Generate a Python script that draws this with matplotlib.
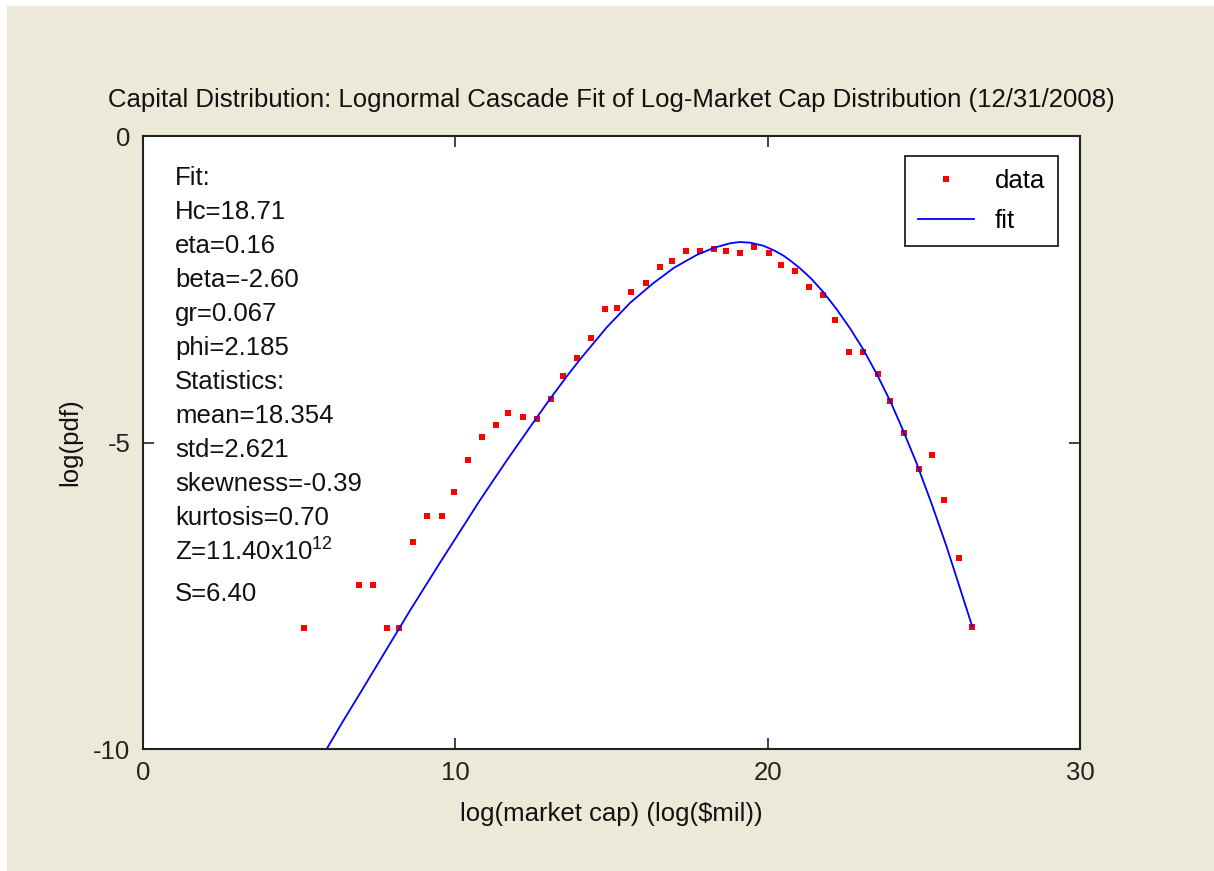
import numpy as np
import matplotlib
matplotlib.use("Agg")
import matplotlib.pyplot as plt
from matplotlib.patches import Rectangle

# data points
data_x = [5.17, 6.92, 7.37, 7.82, 8.20, 8.66, 9.10, 9.57, 9.95, 10.42,
          10.86, 11.31, 11.70, 12.16, 12.61, 13.06, 13.44, 13.90, 14.35, 14.80,
          15.19, 15.64, 16.10, 16.55, 16.93, 17.38, 17.84, 18.28, 18.68, 19.13,
          19.57, 20.04, 20.42, 20.88, 21.33, 21.77, 22.16, 22.62, 23.06, 23.53,
          23.91, 24.38, 24.83, 25.26, 25.65, 26.11, 26.55]
data_y = [-8.02, -7.32, -7.32, -8.02, -8.02, -6.63, -6.20, -6.20, -5.80, -5.28,
          -4.91, -4.72, -4.52, -4.58, -4.61, -4.29, -3.92, -3.62, -3.30, -2.83,
          -2.80, -2.54, -2.40, -2.14, -2.04, -1.88, -1.88, -1.85, -1.88, -1.91,
          -1.81, -1.91, -2.11, -2.21, -2.47, -2.60, -3.00, -3.53, -3.53, -3.89,
          -4.32, -4.84, -5.44, -5.21, -5.94, -6.89, -8.01]

# fitted curve
fit_x = [5.88, 6.40, 6.95, 7.91, 8.55, 9.51, 10.79, 11.65, 12.61, 13.06,
         13.57, 14.00, 14.85, 15.60, 16.34, 17.00, 17.73, 18.30, 18.80, 19.10,
         19.44, 19.86, 20.18, 20.50, 20.72, 21.04, 21.40, 21.77, 22.20, 22.64,
         23.06, 23.50, 23.92, 24.30, 24.77, 25.25, 25.73, 26.55]
fit_y = [-10.0, -9.55, -9.09, -8.28, -7.74, -6.96, -5.94, -5.29, -4.59, -4.27,
         -3.92, -3.64, -3.12, -2.72, -2.40, -2.15, -1.94, -1.82, -1.75, -1.73,
         -1.74, -1.79, -1.86, -1.95, -2.03, -2.16, -2.33, -2.54, -2.82, -3.14,
         -3.48, -3.89, -4.32, -4.76, -5.34, -6.00, -6.70, -8.00]

info_lines = ["Fit:", "Hc=18.71", "eta=0.16", "beta=-2.60", "gr=0.067", "phi=2.185",
              "Statistics:", "mean=18.354", "std=2.621", "skewness=-0.39",
              "kurtosis=0.70", "Z=11.40x10$^{12}$", "S=6.40"]

plt.rcParams['font.family'] = ['Liberation Sans', 'DejaVu Sans']
plt.rcParams['mathtext.fontset'] = 'custom'
plt.rcParams['mathtext.rm'] = 'Liberation Sans'
plt.rcParams['mathtext.it'] = 'Liberation Sans'
plt.rcParams['mathtext.default'] = 'regular'
plt.rcParams['axes.unicode_minus'] = False

W, H = 1214, 871
FS = 18.5
fig = plt.figure(figsize=(W / 100, H / 100), dpi=100, facecolor="white")
# MATLAB-style beige window background, thin white strip on left/top
fig.patches.append(Rectangle((7 / W, 0), 1 - 7 / W, 1 - 6 / H, transform=fig.transFigure,
                             facecolor="#ECE9D8", edgecolor="none", zorder=-10))

ax = fig.add_axes([143 / W, 1 - 749 / H, (1080 - 143) / W, (749 - 136) / H])
ax.set_facecolor("white")

ax.plot(data_x, data_y, linestyle="none", marker="s", ms=4.2, color="red",
        markeredgewidth=0, label="data")
ax.plot(fit_x, fit_y, color="#0000FF", lw=1.3, label="fit")

ax.set_xlim(0, 30)
ax.set_ylim(-10, 0)
ax.set_xticks([0, 10, 20, 30])
ax.set_yticks([-10, -5, 0])
ax.tick_params(direction="in", length=8, width=1.2, top=True, right=True,
               labelsize=FS, colors="#222222", pad=9)
for s in ax.spines.values():
    s.set_linewidth(1.5)
    s.set_color("#222222")

ax.set_title("Capital Distribution: Lognormal Cascade Fit of Log-Market Cap Distribution (12/31/2008)",
             fontsize=FS, color="#111111", pad=21)
ax.set_xlabel("log(market cap) (log(\\$mil))", fontsize=FS, color="#111111", labelpad=12)
ax.set_ylabel("log(pdf)", fontsize=FS, color="#111111", labelpad=8)

# annotation block
y0, step = 178, 34
for i, line in enumerate(info_lines):
    py = y0 + step * i + (8 if i == len(info_lines) - 1 else 0)
    ax.text((175 - 143) / (1080 - 143), (749 - py) / (749 - 136), line,
            transform=ax.transAxes, fontsize=FS, va="center", ha="left", color="#111111")

leg = ax.legend(loc="upper right", fontsize=FS, fancybox=False, framealpha=1,
                edgecolor="#222222", bbox_to_anchor=(0.9765, 0.967), borderaxespad=0,
                borderpad=0.5, handlelength=2.2, markerscale=1.0, labelspacing=0.62)
leg.get_frame().set_linewidth(1.3)

fig.savefig("out.png", dpi=100, facecolor=fig.get_facecolor())
